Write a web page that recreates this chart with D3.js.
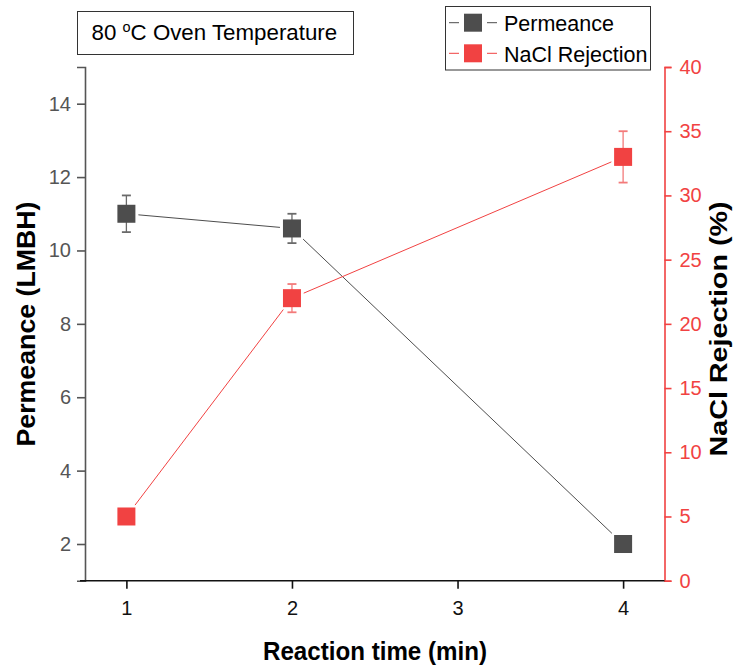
<!DOCTYPE html>
<html>
<head>
<meta charset="utf-8">
<script src="https://cdn.jsdelivr.net/npm/d3@7"></script>
<style>
  body { margin: 0; background: #fff; }
  svg { display: block; font-family: "Liberation Sans", Arial, sans-serif; }
</style>
</head>
<body>
<svg id="chart" width="735" height="666"></svg>
<script>
// ---- data ----
const reactionTime = [1, 2, 4];
const permeance = [11.0, 10.6, 2.0];
const permeanceErr = [0.5, 0.4, 0];
const rejection = [5.0, 22.0, 33.0];
const rejectionErr = [0, 1.1, 2.0];
const xTicks = [1, 2, 3, 4];
const leftTicks = [2, 4, 6, 8, 10, 12, 14];
const rightTicks = [0, 5, 10, 15, 20, 25, 30, 35, 40];
const seriesNames = ["Permeance", "NaCl Rejection"];
const titleText = ["80 ", "o", "C Oven Temperature"];

const GRAY = "#4d4d4d", RED = "#f14242";
const svg = d3.select("#chart");

const x = d3.scaleLinear().domain([0.75, 4.25]).range([85, 664.5]);
const yL = d3.scaleLinear().domain([1, 15]).range([580.7, 67]);
const yR = d3.scaleLinear().domain([0, 40]).range([580.7, 67]);
const TICKFONT = "20px";

// ---- axes ----
// left
const gL = svg.append("g").attr("transform", `translate(${x.range()[0]},0)`);
gL.call(d3.axisLeft(yL).tickValues(d3.range(1, 16, 1)).tickSize(5).tickFormat(""))
  .call(g => g.select(".domain").remove());
gL.call(d3.axisLeft(yL).tickValues(leftTicks).tickSize(8).tickPadding(6).tickFormat(d3.format("d")));
gL.selectAll("line,path").attr("stroke", "#555").attr("stroke-width", 1.6);
gL.selectAll("text").attr("fill", "#555").style("font-size", TICKFONT).style("font-family", "'Liberation Sans', Arial, sans-serif");

// right
const gR = svg.append("g").attr("transform", `translate(${x.range()[1]},0)`);
gR.call(d3.axisRight(yR).tickValues(d3.range(0, 41, 2.5)).tickSize(4).tickFormat(""))
  .call(g => g.select(".domain").remove());
gR.call(d3.axisRight(yR).tickValues(rightTicks).tickSize(7).tickPadding(8).tickFormat(d3.format("d")));
gR.selectAll("line,path").attr("stroke", RED).attr("stroke-width", 1.6);
gR.selectAll("text").attr("fill", RED).style("font-size", TICKFONT).style("font-family", "'Liberation Sans', Arial, sans-serif");

// bottom
const gB = svg.append("g").attr("transform", `translate(0,${yL.range()[0]})`);
gB.call(d3.axisBottom(x).tickValues([1.5, 2.5, 3.5]).tickSize(4).tickFormat(""))
  .call(g => g.select(".domain").remove());
gB.call(d3.axisBottom(x).tickValues(xTicks).tickSize(8).tickPadding(12).tickFormat(d3.format("d")));
gB.select(".domain").attr("d", `M${x.range()[0] - 5},0H${x.range()[1]}`);
gB.selectAll("line,path").attr("stroke", "#111").attr("stroke-width", 1.6);
gB.selectAll("text").attr("fill", "#111").style("font-size", TICKFONT).style("font-family", "'Liberation Sans', Arial, sans-serif");

// ---- axis titles ----
svg.append("text")
  .attr("transform", `translate(35,324) rotate(-90)`)
  .attr("text-anchor", "middle")
  .attr("textLength", 245).attr("lengthAdjust", "spacingAndGlyphs")
  .style("font-size", "25px").style("font-weight", "bold").attr("fill", "#000")
  .text("Permeance (LMBH)");
svg.append("text")
  .attr("transform", `translate(727,329) rotate(-90)`)
  .attr("text-anchor", "middle")
  .attr("textLength", 255).attr("lengthAdjust", "spacingAndGlyphs")
  .style("font-size", "24px").style("font-weight", "bold").attr("fill", "#000")
  .text("NaCl Rejection (%)");
svg.append("text")
  .attr("x", 375).attr("y", 660)
  .attr("text-anchor", "middle")
  .attr("textLength", 224).attr("lengthAdjust", "spacingAndGlyphs")
  .style("font-size", "25px").style("font-weight", "bold").attr("fill", "#000")
  .text("Reaction time (min)");

// ---- series ----
const SQ = 18;
function drawSeries(vals, errs, yS, color, errColor) {
  const pts = reactionTime.map((t, i) => [x(t), yS(vals[i])]);
  const g = svg.append("g");
  for (let i = 0; i < pts.length - 1; i++) {
    const [x0, y0] = pts[i], [x1, y1] = pts[i + 1];
    const dx = x1 - x0, dy = y1 - y0, L = Math.hypot(dx, dy);
    const ux = dx / L, uy = dy / L;
    const off = (SQ / 2) / Math.max(Math.abs(ux), Math.abs(uy)) + 3;
    g.append("line")
      .attr("x1", x0 + ux * off).attr("y1", y0 + uy * off)
      .attr("x2", x1 - ux * off).attr("y2", y1 - uy * off)
      .attr("stroke", color).attr("stroke-width", 1);
  }
  reactionTime.forEach((t, i) => {
    if (!errs[i]) return;
    const cx = x(t), top = yS(vals[i] + errs[i]), bot = yS(vals[i] - errs[i]);
    g.append("line").attr("x1", cx).attr("x2", cx).attr("y1", top).attr("y2", bot)
      .attr("stroke", errColor).attr("stroke-width", 1.3);
    [top, bot].forEach(yy => g.append("line")
      .attr("x1", cx - 4.5).attr("x2", cx + 4.5).attr("y1", yy).attr("y2", yy)
      .attr("stroke", errColor).attr("stroke-width", 1.8));
  });
  g.selectAll("rect").data(pts).join("rect")
    .attr("x", d => d[0] - SQ / 2).attr("y", d => d[1] - SQ / 2)
    .attr("width", SQ).attr("height", SQ).attr("fill", color);
}
drawSeries(permeance, permeanceErr, yL, GRAY, "#6a6a6a");
drawSeries(rejection, rejectionErr, yR, RED, "#f37a7a");

// ---- title box ----
const tb = svg.append("g");
tb.append("rect").attr("x", 77.5).attr("y", 11.5).attr("width", 276).attr("height", 43)
  .attr("fill", "#fff").attr("stroke", "#333").attr("stroke-width", 1);
const tt = tb.append("text").attr("x", 91.5).attr("y", 40).style("font-size", "22.3px").attr("fill", "#000");
tt.append("tspan").text(titleText[0]);
tt.append("tspan").attr("dy", -8).style("font-size", "14.5px").text(titleText[1]);
tt.append("tspan").attr("dy", 8).text(titleText[2]);

// ---- legend ----
const lg = svg.append("g");
lg.append("rect").attr("x", 445.5).attr("y", 6.5).attr("width", 205).attr("height", 63.5)
  .attr("fill", "#fff").attr("stroke", "#333").attr("stroke-width", 1);
const legendColors = [GRAY, RED];
const rowY = [22.7, 53.3];
seriesNames.forEach((name, i) => {
  const cy = rowY[i], cx = 473;
  lg.append("line").attr("x1", 449).attr("x2", 459).attr("y1", cy).attr("y2", cy)
    .attr("stroke", legendColors[i]).attr("stroke-width", 1);
  lg.append("line").attr("x1", 487).attr("x2", 497).attr("y1", cy).attr("y2", cy)
    .attr("stroke", legendColors[i]).attr("stroke-width", 1);
  lg.append("rect").attr("x", cx - SQ / 2).attr("y", cy - SQ / 2).attr("width", SQ).attr("height", SQ)
    .attr("fill", legendColors[i]);
  lg.append("text").attr("x", 504).attr("y", cy + 8.3).style("font-size", "21.5px").attr("fill", "#000")
    .text(name);
});
</script>
</body>
</html>
